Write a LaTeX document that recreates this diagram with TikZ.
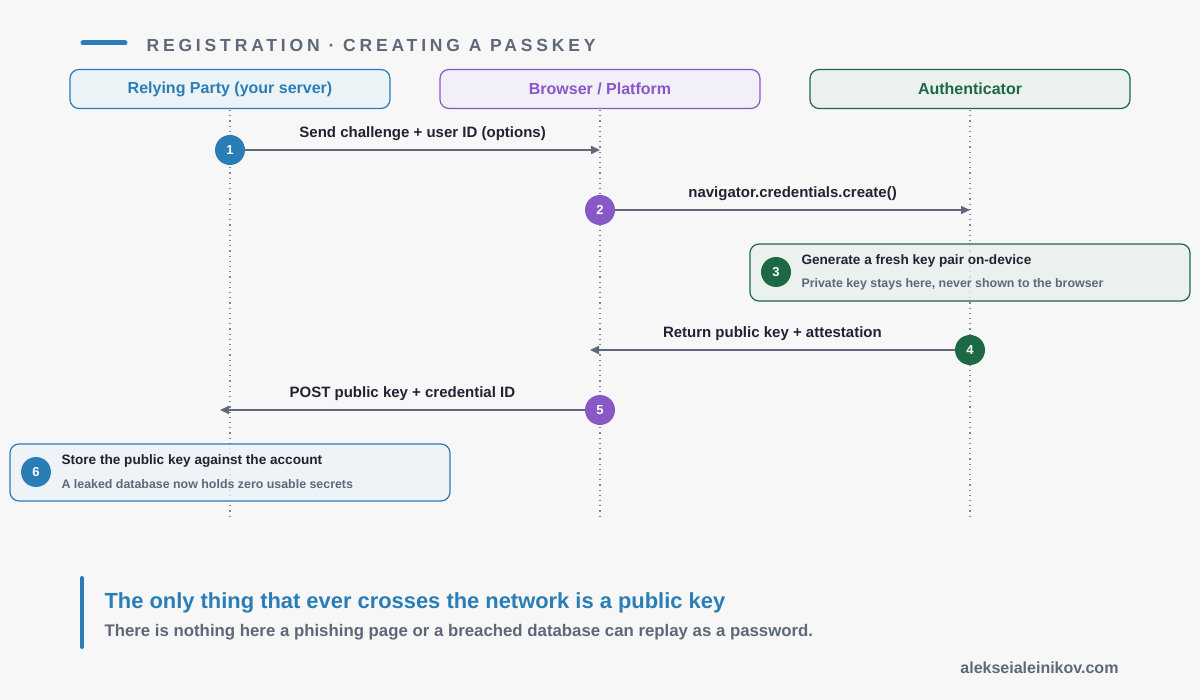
\documentclass[tikz,border=0pt]{standalone}
\usepackage{fontspec}
\setmainfont{Liberation Sans}
\usetikzlibrary{arrows.meta}
\definecolor{rpblue}{HTML}{2A7DB5}
\definecolor{bpurple}{HTML}{8758C6}
\definecolor{agreen}{HTML}{1D6845}
\definecolor{slate}{HTML}{5E6878}
\definecolor{ink}{HTML}{1F2430}
\tikzset{
  lane/.style={draw=#1, line width=1.2pt, fill=#1!10, rounded corners=9pt, fill opacity=0.8, text opacity=1, text=#1, font=\bfseries\fontsize{16}{18}\selectfont},
  life/.style={draw=slate!80, line width=1.2pt, dash pattern=on 1.2pt off 4pt},
  step/.style={circle, fill=#1, text=white, minimum size=30pt, inner sep=0pt, font=\bfseries\fontsize{13}{15}\selectfont},
  msg/.style={draw=slate, line width=1.6pt, -{Triangle[length=9pt,width=8pt]}},
  lbl/.style={font=\bfseries\fontsize{15}{17}\selectfont, text=ink},
  note/.style={draw=#1, line width=1.2pt, fill=#1!10, rounded corners=9pt, fill opacity=0.75},
}
\begin{document}
\begin{tikzpicture}[x=1pt, y=-1pt]
  \useasboundingbox[fill=gray!6] (0,0) rectangle (1200,700);
  % title
  \draw[rpblue, line width=5pt, line cap=round] (83,43) -- (125,43);
  \node[anchor=west, text=slate, font=\bfseries\fontsize{17.5}{20}\selectfont\addfontfeature{LetterSpace=22}] (title) at (143,45) {REGISTRATION · CREATING A PASSKEY};
  % lifelines
  \coordinate (rpTop) at (230,110); \coordinate (rpBot) at (230,518);
  \coordinate (brTop) at (600,110); \coordinate (brBot) at (600,518);
  \coordinate (auTop) at (970,110); \coordinate (auBot) at (970,518);
  \draw[life] (rpTop) -- (rpBot);
  \draw[life] (brTop) -- (brBot);
  \draw[life] (auTop) -- (auBot);
  % lanes
  \node[lane=rpblue, minimum width=320pt, minimum height=39pt] (rp) at (230,89) {Relying Party (your server)};
  \node[lane=bpurple, minimum width=320pt, minimum height=39pt] (br) at (600,89) {Browser / Platform};
  \node[lane=agreen, minimum width=320pt, minimum height=39pt] (au) at (970,89) {Authenticator};
  % notes
  \draw[note=agreen] (750,244) rectangle (1190,301);
  \draw[note=rpblue] (10,444) rectangle (450,501);
  % steps
  \node[step=rpblue] (s1) at (230,150) {1};
  \node[step=bpurple] (s2) at (600,210) {2};
  \node[step=agreen] (s3) at (776,272) {3};
  \node[step=agreen] (s4) at (970,350) {4};
  \node[step=bpurple] (s5) at (600,410) {5};
  \node[step=rpblue] (s6) at (36,472) {6};
  \coordinate (e1) at (600,150);
  \coordinate (e2) at (970,210);
  \coordinate (e4) at (590,350);
  \coordinate (e5) at (220,410);
  \draw[msg] (s1) -- node[lbl, above=5pt] {Send challenge + user ID (options)} (e1);
  \draw[msg] (s2) -- node[lbl, above=5pt] {navigator.credentials.create()} (e2);
  \draw[msg] (s4) -- node[lbl, above=5pt] {Return public key + attestation} (e4);
  \draw[msg] (s5) -- node[lbl, above=5pt] {POST public key + credential ID} (e5);
  % note texts
  \node[anchor=west, text=ink, font=\bfseries\fontsize{13.6}{15}\selectfont] (n3a) at (798,261) {Generate a fresh key pair on-device};
  \node[anchor=west, text=slate, font=\bfseries\fontsize{12.4}{14}\selectfont] (n3b) at (798,284) {Private key stays here, never shown to the browser};
  \node[anchor=west, text=ink, font=\bfseries\fontsize{13.6}{15}\selectfont] (n6a) at (58,461) {Store the public key against the account};
  \node[anchor=west, text=slate, font=\bfseries\fontsize{12.4}{14}\selectfont] (n6b) at (58,484) {A leaked database now holds zero usable secrets};
  % takeaway
  \draw[rpblue, line width=4pt, line cap=round] (82,578) -- (82,647);
  \node[anchor=west, text=rpblue, font=\bfseries\fontsize{21.9}{25}\selectfont] (head) at (101,603) {The only thing that ever crosses the network is a public key};
  \node[anchor=west, text=slate, font=\bfseries\fontsize{16.8}{19}\selectfont] (sub) at (101,632) {There is nothing here a phishing page or a breached database can replay as a password.};
  \node[anchor=east, text=slate, font=\bfseries\fontsize{16}{18}\selectfont] (site) at (1122,668) {alekseialeinikov.com};
\end{tikzpicture}
\end{document}
